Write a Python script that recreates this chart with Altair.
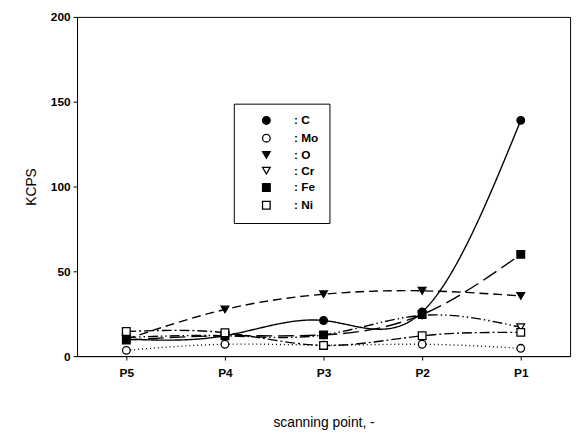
import altair as alt
import pandas as pd

points = ["P5", "P4", "P3", "P2", "P1"]
elements = ["C", "Mo", "O", "Cr", "Fe", "Ni"]

c_vals = [10, 12, 21, 26, 139]
mo_vals = [3.4, 7, 6.5, 7, 4.6]
o_vals = [10, 27.5, 36.5, 38.5, 35.5]
cr_vals = [11, 12, 12.5, 24, 17]
fe_vals = [9.5, 12, 12.5, 24.5, 60]
ni_vals = [14.5, 13.8, 6.3, 12, 14]

series = {"C": c_vals, "Mo": mo_vals, "O": o_vals, "Cr": cr_vals, "Fe": fe_vals, "Ni": ni_vals}

shapes = ["circle", "circle", "triangle-down", "triangle-down", "square", "square"]
fills = ["black", "white", "black", "white", "black", "white"]
strokes = ["black"] * 6
dashes = [[1, 0], [1, 3], [9, 5], [10, 3, 1.5, 3, 1.5, 3], [16, 6], [10, 3, 2, 3]]

rows = []
for el in elements:
    for p, v in zip(points, series[el]):
        rows.append({"point": p, "element": el, "series": el, "kcps": v})
df = pd.DataFrame(rows)

FONT = "Liberation Sans"

x_enc = alt.X(
    "point:N",
    sort=points,
    scale=alt.Scale(type="point", padding=0.5),
    axis=alt.Axis(
        title="scanning point,  -",
        labelAngle=0,
        labelFont=FONT,
        labelFontWeight="bold",
        labelFontSize=12,
        labelPadding=8,
        tickSize=4,
        titleFont=FONT,
        titleFontWeight="normal",
        titleFontSize=14,
        titlePadding=37,
        domainColor="black",
        tickColor="black",
        labelColor="black",
        titleColor="black",
    ),
)
y_enc = alt.Y(
    "kcps:Q",
    scale=alt.Scale(domain=[0, 200], nice=False),
    axis=alt.Axis(
        title="KCPS",
        values=[0, 50, 100, 150, 200],
        grid=False,
        labelFont=FONT,
        labelFontWeight="bold",
        labelFontSize=12,
        labelPadding=3,
        tickSize=4,
        titleFont=FONT,
        titleFontWeight="normal",
        titleFontSize=14,
        titlePadding=12,
        domainColor="black",
        tickColor="black",
        labelColor="black",
        titleColor="black",
    ),
)

legend_def = alt.Legend(
    orient="none",
    legendX=159,
    legendY=88,
    labelExpr="': ' + datum.label",
    labelFont=FONT,
    labelFontWeight="bold",
    labelFontSize=12,
    labelColor="black",
    strokeColor="black",
    padding=11,
    rowPadding=4,
    symbolSize=60,
    symbolStrokeWidth=1.3,
    symbolOffset=16,
    labelOffset=22,
    fillColor="white",
)

lines = alt.Chart(df).mark_line(color="black", strokeWidth=1.4, interpolate="natural").encode(
    x=x_enc,
    y=y_enc,
    detail="series:N",
    strokeDash=alt.StrokeDash(
        "series:N", sort=elements, scale=alt.Scale(range=dashes), legend=None
    ),
)

pts = alt.Chart(df).mark_point(
    strokeWidth=1.3, size=60, filled=True, opacity=1
).encode(
    x=x_enc,
    y=y_enc,
    shape=alt.Shape("element:N", title="", scale=alt.Scale(domain=elements, range=shapes), legend=legend_def),
    fill=alt.Fill("element:N", title="", scale=alt.Scale(domain=elements, range=fills), legend=legend_def),
    stroke=alt.Stroke("element:N", title="", scale=alt.Scale(domain=elements, range=strokes), legend=legend_def),
)

chart = (
    alt.layer(lines, pts)
    .properties(
        width=500,
        height=344,
        background="white",
        padding={"left": 16, "top": 0, "right": 5, "bottom": 5},
    )
    .configure_view(stroke="black", strokeWidth=1)
)

chart.save("out.html", embed_options={"renderer": "svg", "actions": False})
